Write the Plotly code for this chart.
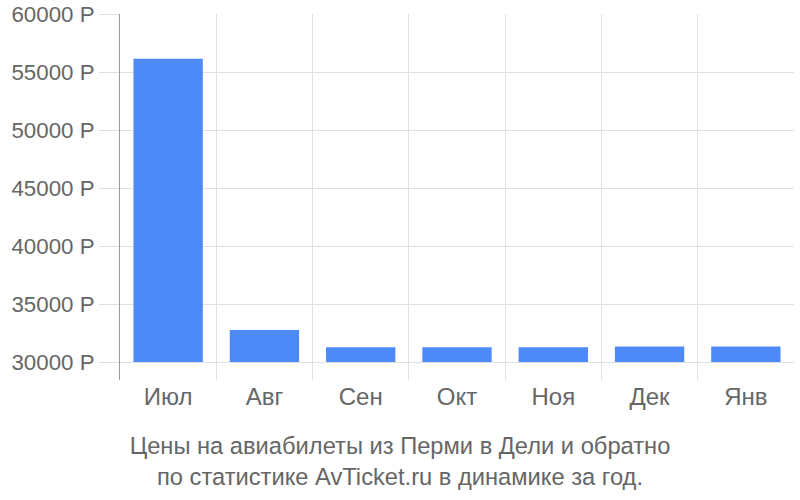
import plotly.graph_objects as go

# Месяцы и цены (руб.)
months = ["Июл", "Авг", "Сен", "Окт", "Ноя", "Дек", "Янв"]
prices = [56150, 32750, 31280, 31280, 31270, 31330, 31330]
base_price = 30000
y_ticks = [30000, 35000, 40000, 45000, 50000, 55000, 60000]
y_labels = [f"{v} Р" for v in y_ticks]

fig = go.Figure(go.Bar(
    x=months,
    y=[p - base_price for p in prices],
    base=base_price,
    width=0.72,
    marker_color="#4d89f9",
    marker_line_width=0,
    hoverinfo="skip",
))

fig.update_layout(
    width=800, height=500,
    margin=dict(l=120, r=6, t=14, b=120),
    plot_bgcolor="white",
    paper_bgcolor="white",
    font=dict(family="Liberation Sans, Arial, sans-serif", size=24, color="#666666"),
    showlegend=False,
    title=dict(
        text="Цены на авиабилеты из Перми в Дели и обратно<br>по статистике AvTicket.ru в динамике за год.",
        x=0.5, xref="container", xanchor="center",
        y=0.092, yref="container", yanchor="middle",
        font=dict(size=23.7, color="#666666"),
    ),
)

fig.update_xaxes(
    type="category",
    tickson="boundaries",
    showgrid=True, gridcolor="#e0e0e0", gridwidth=1,
    ticks="", showline=False, zeroline=False,
    automargin=False,
    tickfont=dict(size=24, color="#666666"),
)

fig.update_yaxes(
    range=[28450, 60000],
    tickmode="array",
    tickvals=y_ticks,
    ticktext=y_labels,
    showgrid=True, gridcolor="#e0e0e0", gridwidth=1,
    ticks="outside", ticklen=20, tickcolor="#e0e0e0", tickwidth=1,
    showline=True, linecolor="#999999", linewidth=1,
    zeroline=False,
    automargin=False,
    ticklabeloverflow="allow",
    tickfont=dict(size=22.3, color="#666666"),
)

# убрать отступ body, чтобы график начинался с (0, 0)
fig.write_html("out.html",
               config={"displayModeBar": False},
               post_script="document.body.style.margin = '0';")
